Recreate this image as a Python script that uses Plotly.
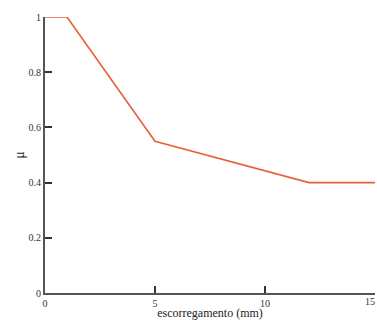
import plotly.graph_objects as go

x_vals = [0, 1, 5, 12, 15]
mu_vals = [1.0, 1.0, 0.55, 0.40, 0.40]
x_ticks = [0, 5, 10, 15]
x_tick_text = ["0", "5", "10", ""]
last_x_label = "15"
y_ticks = [0, 0.2, 0.4, 0.6, 0.8, 1]

fig = go.Figure()
fig.add_trace(go.Scatter(x=x_vals, y=mu_vals, mode="lines",
                         line=dict(color="#E8603A", width=1.6),
                         showlegend=False, cliponaxis=False))

tick_font = dict(family="Liberation Serif", size=10, color="#333333")
axis_common = dict(showgrid=False, zeroline=False, showline=True,
                   linecolor="#555555", linewidth=2, ticks="inside",
                   ticklen=7, tickwidth=1.5, tickcolor="#333333",
                   ticklabeloverflow="allow", automargin=False,
                   tickfont=tick_font)

fig.update_xaxes(range=[0, 15], tickvals=x_ticks, ticktext=x_tick_text,
                 title=dict(text="escorregamento (mm)", standoff=3,
                            font=dict(family="Liberation Serif", size=12, color="#222222")),
                 **axis_common)
fig.update_yaxes(range=[0, 1], tickvals=y_ticks, ticktext=["0", "0.2", "0.4", "0.6", "0.8", "1"],
                 title=dict(text="μ", standoff=1,
                            font=dict(family="Liberation Serif", size=14, color="#222222")),
                 **axis_common)

fig.add_annotation(text=last_x_label, xref="paper", yref="paper", x=1, y=0,
                   xanchor="right", yanchor="top", xshift=2, yshift=-1,
                   showarrow=False, font=tick_font)

fig.update_layout(width=377, height=320, margin=dict(l=45, r=2, t=17, b=27),
                  plot_bgcolor="white", paper_bgcolor="white")

fig.write_html("out.html")
